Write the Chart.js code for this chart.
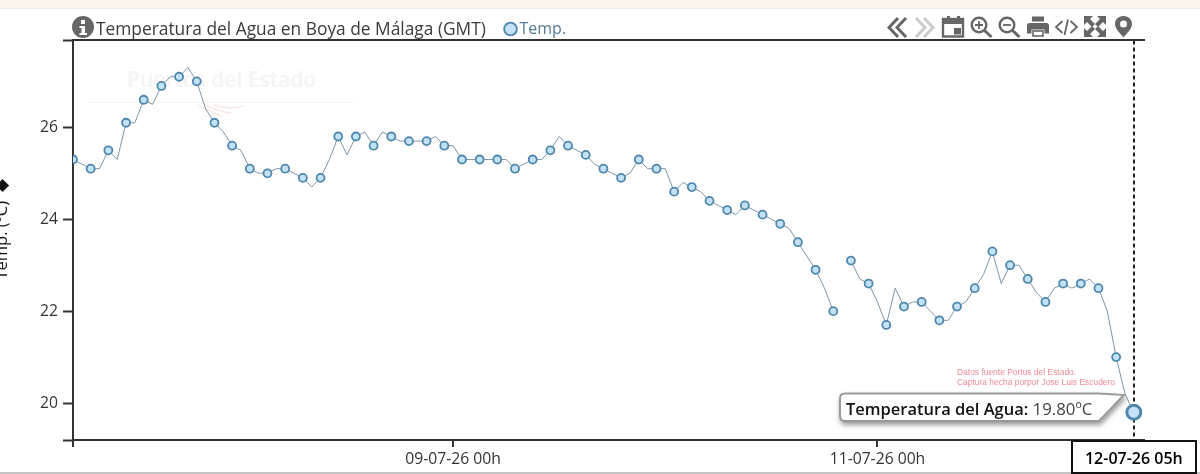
<!DOCTYPE html>
<html lang="es">
<head>
<meta charset="utf-8">
<title>Temperatura del Agua en Boya de Málaga</title>
<script src="https://cdn.jsdelivr.net/npm/chart.js@4"></script>
<style>
  html,body{margin:0;padding:0;width:1200px;height:474px;overflow:hidden;background:#fff;font-family:"Open Sans",sans-serif}
  #top{position:absolute;left:0;top:0;width:1200px;height:8px;background:#fdf6ee;border-bottom:1px solid #f1ece4}
  #bot{position:absolute;left:0;top:472px;width:1200px;height:2px;background:#c4c4c4}
  #mark{position:absolute;left:127px;top:65px;font:600 21px "Open Sans",sans-serif;color:#f5f3f3;white-space:nowrap}
  #note{position:absolute;left:957px;top:367px;font:8.45px/10px "Liberation Sans",sans-serif;color:#f08a96;white-space:nowrap}
  canvas{position:absolute;left:-8px;top:0}
  svg{position:absolute;left:0;top:0}
  #timebox{position:absolute;left:1071px;top:440px;width:122px;height:30px;border:2px solid #111;box-sizing:content-box}
  #tip{position:absolute;left:846px;top:397px;font:600 16.5px/24px "Open Sans",sans-serif;color:#111;white-space:nowrap}
  #tip span{font-weight:400;font-size:16.8px;color:#444}
</style>
</head>
<body>
<div id="top"></div>
<div id="mark">Puertos del Estado</div>
<svg width="1200" height="474" style="pointer-events:none">
  <line x1="88" y1="102.5" x2="356" y2="102.5" stroke="#fdf5ea" stroke-width="1"/>
  <g fill="none" stroke="#f9e8e8" stroke-width="1.4">
    <path d="M197 105 Q212 112 222 116"/><path d="M205 105 Q220 112 231 113"/><path d="M214 105 Q228 110 244 106"/>
  </g>
</svg>
<canvas id="c" width="1208" height="474"></canvas>
<div id="note">Datos fuente Portus del Estado.<br>Captura hecha porpor Jose Luis Escudero</div>
<div id="bot"></div>
<div id="timebox"></div>
<svg width="1200" height="474" style="pointer-events:none">
  <defs><filter id="sh" x="-10%" y="-30%" width="120%" height="180%"><feDropShadow dx="1" dy="3" stdDeviation="2.5" flood-color="#000" flood-opacity=".4"/></filter></defs>
  <path d="M845 393.5 H1099 L1124 395 L1099 421 H845 Q840 421 840 416 V398.5 Q840 393.5 845 393.5 Z" fill="#fff" stroke="#999" stroke-width="2" filter="url(#sh)"/>
  <!-- info -->
  <circle cx="83" cy="27" r="11" fill="#666"/>
  <rect x="81" y="20" width="4" height="4" fill="#fff"/><path d="M79.5 26 H85 V33 H87 V35 H79.5 V33 H81.5 V28 H79.5 Z" fill="#fff"/>
  <g fill="none" stroke="#666" stroke-width="3">
    <path d="M898 18 L889 27.5 L898 37"/><path d="M906 18 L897 27.5 L906 37"/>
    <path d="M916 18 L925 27.5 L916 37" stroke="#ccc"/><path d="M924 18 L933 27.5 L924 37" stroke="#ccc"/>
    <rect x="943" y="19" width="20" height="17.5" stroke-width="2.4"/>
  </g>
  <rect x="942" y="18" width="22" height="6" fill="#666"/><rect x="947" y="16" width="3" height="3" fill="#666"/><rect x="957" y="16" width="3" height="3" fill="#666"/>
  <rect x="954" y="28" width="7" height="6.5" fill="#666"/>
  <g fill="none" stroke="#666" stroke-width="2.4">
    <circle cx="979" cy="25" r="7.3"/><path d="M984.5 30.5 L991.5 37" stroke-width="3"/><path d="M975 25 H983 M979 21 V29" stroke-width="1.8"/>
    <circle cx="1007" cy="25" r="7.3"/><path d="M1012.5 30.5 L1019.5 37" stroke-width="3"/><path d="M1003 25 H1011" stroke-width="1.8"/>
  </g>
  <path d="M1032 16.5 H1044 V21.5 H1032 Z M1029.5 23 H1046.5 Q1049 23 1049 25.5 V33.5 H1044.5 V29.5 H1031.5 V33.5 H1027 V25.5 Q1027 23 1029.5 23 Z" fill="#666"/>
  <rect x="1033" y="31" width="10" height="5" fill="#fff" stroke="#666" stroke-width="1.6"/>
  <g fill="none" stroke="#666" stroke-width="1.8">
    <path d="M1062.5 21 L1056 27 L1062.5 33"/><path d="M1068 19.5 L1064.5 35"/><path d="M1070.5 21 L1077 27 L1070.5 33"/>
  </g>
  <g fill="#666">
    <path d="M1084 16 H1093 L1090 19 L1095 24 L1092 27 L1087 22 L1084 25 Z"/>
    <path d="M1106 16 H1097 L1100 19 L1095 24 L1098 27 L1103 22 L1106 25 Z"/>
    <path d="M1084 37 H1093 L1090 34 L1095 29 L1092 26 L1087 31 L1084 28 Z"/>
    <path d="M1106 37 H1097 L1100 34 L1095 29 L1098 26 L1103 31 L1106 28 Z"/>
    <path fill-rule="evenodd" d="M1123.5 16 C1129 16 1132 20 1132 24 C1132 29 1127 33 1123.5 37.5 C1120 33 1115 29 1115 24 C1115 20 1118 16 1123.5 16 Z M1123.5 20.5 A3.5 3.5 0 1 0 1123.5 27.5 A3.5 3.5 0 1 0 1123.5 20.5 Z"/>
  </g>
</svg>
<div id="tip"></div>
<script>
const chartTitle = "Temperatura del Agua en Boya de Málaga (GMT)";
const seriesName = "Temp.";
const tooltipName = "Temperatura del Agua";
const yTitle = "Temp. (ºC)  ◆";
const yTicks = [20, 22, 24, 26];
const xTickHours = [0, 43, 91, 120];
const xTickLabels = ["", "09-07-26 00h", "11-07-26 00h", "12-07-26 05h"];
// hourly water temperature (ºC), first hour = 07-07-26 05h
const temps = [
  25.3,25.2,25.1,25.1,25.5,25.3,26.1,26.1,26.6,26.5,
  26.9,27.1,27.1,27.3,27.0,26.4,26.1,25.9,25.6,25.5,
  25.1,25.0,25.0,25.1,25.1,25.0,24.9,24.7,24.9,25.3,
  25.8,25.4,25.8,25.9,25.6,25.9,25.8,25.7,25.7,25.7,
  25.7,25.8,25.6,25.6,25.3,25.3,25.3,25.3,25.3,25.3,
  25.1,25.2,25.3,25.3,25.5,25.8,25.6,25.5,25.4,25.2,
  25.1,25.0,24.9,25.0,25.3,25.1,25.1,25.1,24.6,24.8,
  24.7,24.6,24.4,24.3,24.2,24.1,24.3,24.2,24.1,24.0,
  23.9,23.8,23.5,23.2,22.9,22.5,22.0,null,23.1,22.7,
  22.6,22.2,21.7,22.5,22.1,22.2,22.2,22.0,21.8,21.8,
  22.1,22.2,22.5,22.8,23.3,22.6,23.0,23.0,22.7,22.4,
  22.2,22.5,22.6,22.5,22.6,22.7,22.5,22.0,21.0,20.2,
  19.8
];
const points = temps.map((t, h) => ({x: h, y: t}));
const lastIdx = temps.length - 1;
const yMin = 19.196, yMax = 27.891, xMax = 121.15;
const ink = "#333";

const place = {
  id: "place",
  beforeDraw(chart) {
    const t = chart.titleBlock;
    t.left = 104; t.right = 800;
    const l = chart.legend;
    l.left = 507.5; l.right = 640; l.top = 11; l.bottom = 40;
  }
};

new Chart(document.getElementById("c"), {
  type: "line",
  plugins: [place],
  data: { datasets: [{
    label: seriesName,
    data: points,
    spanGaps: false,
    tension: 0,
    borderColor: "#7c97a8",
    borderWidth: 1,
    backgroundColor: "#c3e2f8",
    pointBackgroundColor: "#c3e2f8",
    pointBorderColor: "#4f87ad",
    pointBorderWidth: c => c.dataIndex === lastIdx ? 3 : 1.8,
    pointRadius: c => c.dataIndex === lastIdx ? 7 : (c.dataIndex % 2 === 0 ? 4 : 0)
  }]},
  options: {
    responsive: false,
    animation: false,
    events: [],
    layout: { padding: { top: 19.6, right: 56, left: 0, bottom: 0 } },
    plugins: {
      tooltip: { enabled: false },
      title: { display: true, text: chartTitle, align: "start", color: "#3c3c3c",
               font: { family: "Open Sans", size: 17.35, weight: "400" }, padding: 0 },
      legend: { display: true, position: "chartArea", align: "start",
                labels: { usePointStyle: true, boxWidth: 2, boxHeight: 9, padding: 10,
                          color: "#557a92", font: { family: "Open Sans", size: 16 } } }
    },
    scales: {
      x: {
        type: "linear", min: 0, max: xMax, position: "bottom",
        afterBuildTicks(s) { s.ticks = xTickHours.map(v => ({value: v})); },
        afterFit(s) { s.height = 34; },
        border: { display: true, color: ink, width: 2, dash: [4, 3] },
        grid: { drawOnChartArea: true, drawTicks: true, tickLength: 7, tickWidth: 2,
                color: c => (c.tick && c.tick.value === 120) ? "#222" : "rgba(0,0,0,0)",
                lineWidth: 2,
                tickColor: c => (c.tick && c.tick.value === 120) ? "rgba(0,0,0,0)" : ink },
        ticks: { autoSkip: false, maxRotation: 0, padding: 3, color: c => c.tick && c.tick.value === 120 ? "#000" : ink,
                 font: c => ({ family: "Open Sans", size: c.tick && c.tick.value === 120 ? 16 : 15.7, weight: c.tick && c.tick.value === 120 ? "600" : "400" }),
                 callback: v => xTickLabels[xTickHours.indexOf(v)] }
      },
      xTop: {
        type: "linear", min: 0, max: xMax, position: "top",
        afterFit(s) { s.height = 0; },
        border: { display: true, color: ink, width: 2 },
        grid: { display: true, drawOnChartArea: false, drawTicks: false },
        ticks: { display: false }
      },
      y: {
        type: "linear", min: yMin, max: yMax,
        afterBuildTicks(s) { s.ticks = [yMin, ...yTicks, yMax].map(v => ({value: v})); },
        afterFit(s) { s.width = 81; },
        border: { display: true, color: ink, width: 2 },
        grid: { drawOnChartArea: false, drawTicks: true, tickLength: 10, tickWidth: 2, tickColor: ink },
        title: { display: true, text: "     " + yTitle, color: "#111", padding: 0,
                 font: { family: "Open Sans", size: 16.5 } },
        ticks: { padding: 5, color: ink, font: { family: "Open Sans", size: 15.7 },
                 callback: v => yTicks.includes(v) ? String(v) : "" }
      }
    }
  }
});

const tip = document.getElementById("tip");
tip.textContent = tooltipName + ": ";
const val = document.createElement("span");
val.textContent = temps[lastIdx].toFixed(2) + "ºC";
tip.appendChild(val);
</script>
</body>
</html>
